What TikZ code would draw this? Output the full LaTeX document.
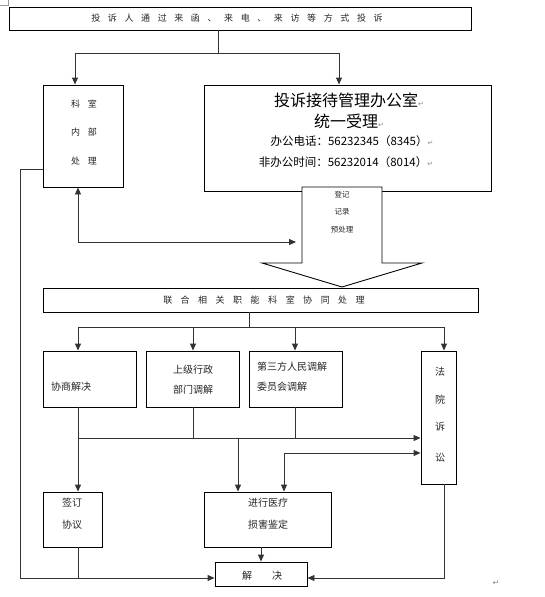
\documentclass[tikz,border=0pt]{standalone}
\usepackage{fontspec}
\newfontfamily\cjk{Noto Sans CJK SC}
\newfontfamily\djv{DejaVu Sans}
\usetikzlibrary{arrows.meta}
\newcommand\gp[1]{\hspace{#1pt}}
\newcommand\pmark{{\djv\fontsize{7}{8}\selectfont\color{black!45}↵}}
\begin{document}
\begin{tikzpicture}[x=1pt,y=-1pt,
  box/.style={draw=black, line width=0.9pt, fill=white, inner sep=0pt},
  txt/.style={font=\cjk\fontsize{9}{10}\selectfont, inner sep=0pt, text=black!85},
  stxt/.style={font=\cjk\fontsize{7.5}{8}\selectfont, inner sep=0pt, text=black!85},
  mtxt/.style={font=\cjk\fontsize{10}{11}\selectfont, inner sep=0pt, text=black!85},
  btxt/.style={font=\cjk\fontsize{16}{17}\selectfont, inner sep=0pt},
  ptxt/.style={font=\cjk\fontsize{11.5}{12}\selectfont, inner sep=0pt},
  conn/.style={line width=0.9pt, draw=black!80},
  arr/.style={conn, -{Triangle[length=7pt,width=6pt]}},
  darr/.style={conn, {Triangle[length=7pt,width=6pt]}-{Triangle[length=7pt,width=6pt]}}]
\useasboundingbox[fill=white] (0,0) rectangle (544,597);
% page corner mark
\draw[black!40, line width=0.5pt] (0,5) -- (8,5) -- (8,0);
\node[font=\djv\fontsize{8}{9}\selectfont, text=black!45, inner sep=0pt] (endmark) at (496,583) {↵};

% boxes
\node[box, minimum width=462pt, minimum height=23pt] (top) at (240,18.5) {};
\node[txt] (toptxt) at (237,18.5) {投\gp{7.6}诉\gp{7.6}人\gp{7.6}通\gp{7.6}过\gp{7.6}来\gp{7.6}函\gp{7.6}、\gp{7.6}来\gp{7.6}电\gp{7.6}、\gp{7.6}来\gp{7.6}访\gp{7.6}等\gp{7.6}方\gp{7.6}式\gp{7.6}投\gp{7.6}诉};

\node[box, minimum width=80pt, minimum height=102pt] (ks) at (83,136) {};
\node[txt] (ks1) at (84,104) {科\gp8室};
\node[txt] (ks2) at (84,132) {内\gp8部};
\node[txt] (ks3) at (84,161) {处\gp8理};

\node[box, minimum width=287pt, minimum height=106pt] (off) at (347.5,138) {};
\node[btxt] (off1) at (349,100) {投诉接待管理办公室\pmark};
\node[btxt] (off2) at (349,121) {统一受理\pmark};
\node[ptxt] (off3) at (352,141) {办公电话：56232345（8345）\pmark};
\node[ptxt] (off4) at (346,162) {非办公时间：56232014（8014）\pmark};

% big arrow
\draw[line width=0.9pt, fill=white] (302,187) -- (382,187) -- (382,263) -- (422,263) -- (342,287) -- (262,263) -- (302,263) -- cycle;
\node[stxt] (a1) at (342,195) {登记};
\node[stxt] (a2) at (342,212) {记录};
\node[stxt] (a3) at (342,230) {预处理};
\coordinate (shaftW) at (296,242);

\node[box, minimum width=435pt, minimum height=24pt] (joint) at (260.5,300) {};
\node[txt] (jointtxt) at (264,300) {联\gp{8.5}合\gp{8.5}相\gp{8.5}关\gp{8.5}职\gp{8.5}能\gp{8.5}科\gp{8.5}室\gp{8.5}协\gp{8.5}同\gp{8.5}处\gp{8.5}理};

\node[box, minimum width=93pt, minimum height=56pt] (xs) at (89.5,379) {};
\node[mtxt, anchor=west] (xst) at (51,387) {协商解决};
\node[box, minimum width=93pt, minimum height=56pt] (sj) at (192.5,379) {};
\node[mtxt] (sj1) at (193,370) {上级行政};
\node[mtxt] (sj2) at (193,390) {部门调解};
\node[box, minimum width=93pt, minimum height=56pt] (dsf) at (295.5,379) {};
\node[mtxt, anchor=west] (dsf1) at (257,367) {第三方人民调解};
\node[mtxt, anchor=west] (dsf2) at (257,387) {委员会调解};
\node[box, minimum width=35pt, minimum height=133pt] (fy) at (438.5,417.5) {};
\node[mtxt] (fy1) at (440,372) {法};
\node[mtxt] (fy2) at (440,400) {院};
\node[mtxt] (fy3) at (440,427) {诉};
\node[mtxt] (fy4) at (440,458) {讼};

\node[box, minimum width=59pt, minimum height=55pt] (qd) at (72.5,519.5) {};
\node[mtxt] (qd1) at (72,503) {签订};
\node[mtxt] (qd2) at (72,525) {协议};
\node[box, minimum width=127pt, minimum height=55pt] (yl) at (267.5,519.5) {};
\node[mtxt] (yl1) at (268,503) {进行医疗};
\node[mtxt] (yl2) at (268,525) {损害鉴定};
\node[box, minimum width=92pt, minimum height=24pt] (jj) at (261,574) {};
\node[mtxt] (jjt) at (262,576) {解\gp{20}决};

% helper coordinates
\coordinate (t1) at (218,53);
\coordinate (c75) at (75,0);
\coordinate (c78) at (78,0);
\coordinate (c339) at (339,0);
\coordinate (L1) at (20,169);
\coordinate (L2) at (20,578);
\coordinate (j2) at (249,327);
\coordinate (c193) at (193,0);
\coordinate (c295) at (295,0);
\coordinate (c444) at (444,0);
\coordinate (h1) at (78,438);
\coordinate (c238) at (238,0);
\coordinate (h2) at (284,453);
\coordinate (c261) at (261,0);

% connectors
\draw[conn] (top.south -| t1) -- (t1);
\draw[arr] (t1) -| (ks.north -| c75);
\draw[arr] (t1) -| (off.north -| c339);
\draw[darr] (ks.south -| c78) |- (shaftW);
\draw[arr] (ks.west |- L1) -- (L1) -- (L2) -- (jj.west |- L2);

\draw[conn] (joint.south -| j2) -- (j2);
\draw[arr] (j2) -| (xs.north -| c78);
\draw[arr] (j2) -| (sj.north -| c193);
\draw[arr] (j2) -| (dsf.north -| c295);
\draw[arr] (j2) -| (fy.north -| c444);

\draw[arr] (xs.south -| c78) -- (qd.north -| c78);
\draw[conn] (sj.south -| c193) -- (c193 |- h1);
\draw[conn] (dsf.south -| c295) -- (c295 |- h1);
\draw[arr] (h1) -- (fy.west |- h1);
\draw[arr] (c238 |- h1) -- (yl.north -| c238);
\draw[darr] (fy.west |- h2) -- (h2) -- (yl.north -| h2);

\draw[arr] (yl.south -| c261) -- (jj.north -| c261);
\draw[conn] (qd.south -| c78) -- (c78 |- L2);
\draw[arr] (fy.south -| c444) |- (jj.east |- L2);
\end{tikzpicture}
\end{document}
